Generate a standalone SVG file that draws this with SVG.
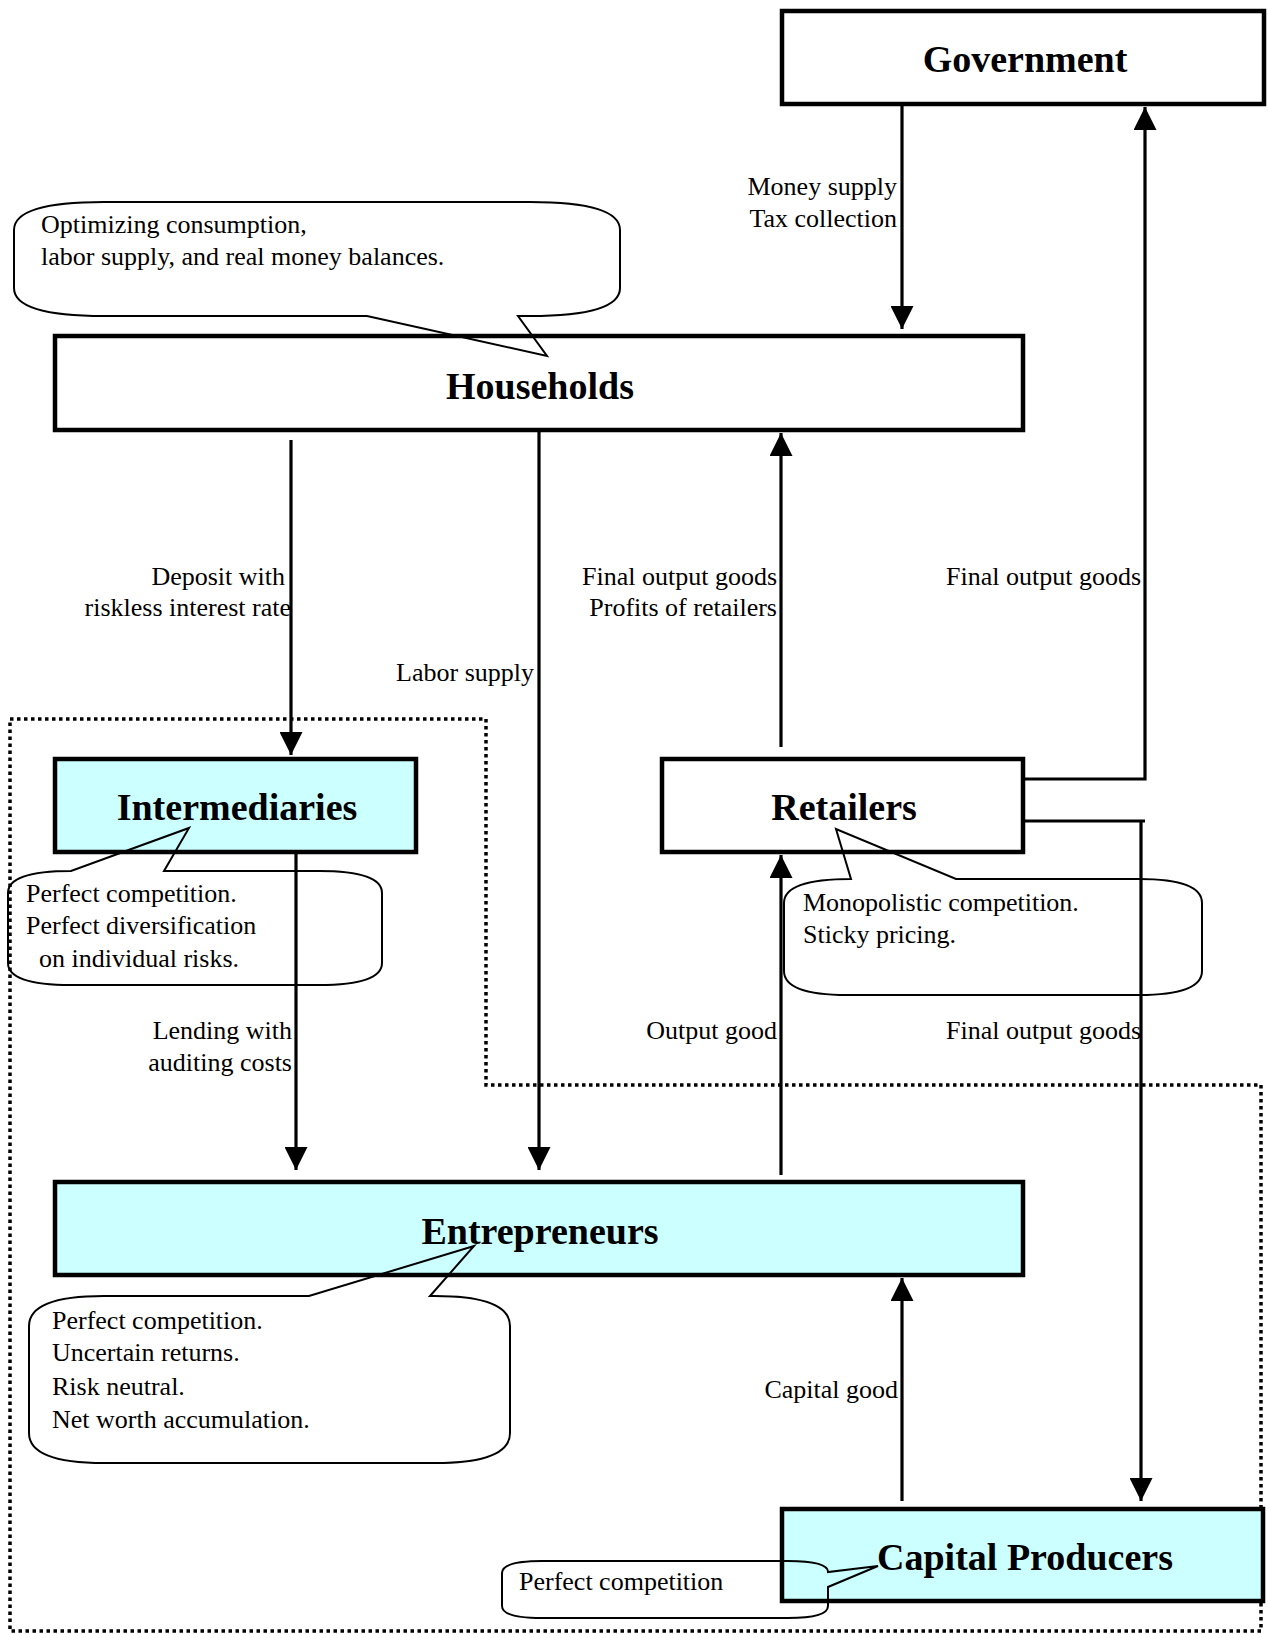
<svg xmlns="http://www.w3.org/2000/svg" width="1268" height="1634" viewBox="0 0 1268 1634">
<defs>
<style>
.box{fill:#ffffff;stroke:#000;stroke-width:4.5}
.cyan{fill:#ccffff;stroke:#000;stroke-width:4.5}
.title{font-family:"Liberation Serif","Times New Roman",serif;font-weight:bold;font-size:38px;text-anchor:middle;fill:#000}
.lbl{font-family:"Liberation Serif","Times New Roman",serif;font-size:26px;text-anchor:end;fill:#000}
.note{font-family:"Liberation Serif","Times New Roman",serif;font-size:26px;fill:#000}
.call{fill:none;stroke:#000;stroke-width:2}
.conn{fill:none;stroke:#000;stroke-width:3.2}
.dots{fill:none;stroke:#000;stroke-width:3.5;stroke-dasharray:3.5 3.5}
</style>
<marker id="ah" markerUnits="userSpaceOnUse" markerWidth="23" markerHeight="23" viewBox="0 0 23 23" refX="23" refY="11.5" orient="auto">
<path d="M0,0 L23,11.5 L0,23 Z" fill="#000"/>
</marker>
</defs>
<rect width="1268" height="1634" fill="#ffffff"/>

<polygon class="dots" points="10,719 486,719 486,1085 1261,1085 1261,1631 10,1631"/>

<g id="government">
<rect class="box" x="782" y="11" width="482" height="93"/>
<text class="title" x="1025" y="72">Government</text>
</g>
<g id="households">
<rect class="box" x="55" y="336" width="968" height="94"/>
<text class="title" x="540" y="399">Households</text>
</g>
<g id="intermediaries">
<rect class="cyan" x="55" y="759" width="361" height="93"/>
<text class="title" x="237" y="820">Intermediaries</text>
</g>
<g id="retailers">
<rect class="box" x="662" y="759" width="361" height="93"/>
<text class="title" x="844" y="820">Retailers</text>
</g>
<g id="entrepreneurs">
<rect class="cyan" x="55" y="1182" width="968" height="93"/>
<text class="title" x="540" y="1244">Entrepreneurs</text>
</g>
<g id="capital-producers">
<rect class="cyan" x="782" y="1509" width="481" height="92"/>
<text class="title" x="1025" y="1570">Capital Producers</text>
</g>

<g id="connectors">
<line class="conn" x1="902" y1="106" x2="902" y2="329" marker-end="url(#ah)"/>
<path class="conn" d="M1023,779 H1145 V107" marker-end="url(#ah)"/>
<path class="conn" d="M1023,821 H1145 M1141,821 V1501" marker-end="url(#ah)"/>
<line class="conn" x1="291" y1="440" x2="291" y2="755" marker-end="url(#ah)"/>
<line class="conn" x1="539" y1="432" x2="539" y2="1170" marker-end="url(#ah)"/>
<line class="conn" x1="781" y1="747" x2="781" y2="433" marker-end="url(#ah)"/>
<line class="conn" x1="296" y1="854" x2="296" y2="1170" marker-end="url(#ah)"/>
<line class="conn" x1="781" y1="1175" x2="781" y2="855" marker-end="url(#ah)"/>
<line class="conn" x1="902" y1="1501" x2="902" y2="1278" marker-end="url(#ah)"/>
</g>

<g id="connector-labels">
<text class="lbl" x="897" y="195">Money supply</text>
<text class="lbl" x="897" y="227">Tax collection</text>
<text class="lbl" x="285" y="585">Deposit with</text>
<text class="lbl" x="291" y="616">riskless interest rate</text>
<text class="lbl" x="534" y="681">Labor supply</text>
<text class="lbl" x="777" y="585">Final output goods</text>
<text class="lbl" x="777" y="616">Profits of retailers</text>
<text class="lbl" x="1141" y="585">Final output goods</text>
<text class="lbl" x="292" y="1039">Lending with</text>
<text class="lbl" x="292" y="1071">auditing costs</text>
<text class="lbl" x="777" y="1039">Output good</text>
<text class="lbl" x="1141" y="1039">Final output goods</text>
<text class="lbl" x="898" y="1398">Capital good</text>
</g>

<g id="callout-households">
<path class="call" d="M14,230 Q14,202 104,202 L530,202 Q620,202 620,230 L620,288 Q620,316 530,316 L518,316 L547,356 L367,316 L104,316 Q14,316 14,288 Z"/>
<text class="note" x="41" y="233">Optimizing consumption,</text>
<text class="note" x="41" y="265">labor supply, and real money balances.</text>
</g>
<g id="callout-intermediaries">
<path class="call" d="M8,893 Q8,871 71,871 L189,828 L164,871 L319,871 Q382,871 382,893 L382,963 Q382,985 319,985 L71,985 Q8,985 8,963 Z"/>
<text class="note" x="26" y="902">Perfect competition.</text>
<text class="note" x="26" y="934">Perfect diversification</text>
<text class="note" x="39" y="967">on individual risks.</text>
</g>
<g id="callout-retailers">
<path class="call" d="M784,903 Q784,879 851,879 L836,829 L956,879 L1139,879 Q1202,879 1202,903 L1202,971 Q1202,995 1139,995 L847,995 Q784,995 784,971 Z"/>
<text class="note" x="803" y="911">Monopolistic competition.</text>
<text class="note" x="803" y="943">Sticky pricing.</text>
</g>
<g id="callout-entrepreneurs">
<path class="call" d="M29,1326 Q29,1296 104,1296 L309,1296 L474,1246 L430,1296 L435,1296 Q510,1296 510,1326 L510,1433 Q510,1463 435,1463 L104,1463 Q29,1463 29,1433 Z"/>
<text class="note" x="52" y="1329">Perfect competition.</text>
<text class="note" x="52" y="1361">Uncertain returns.</text>
<text class="note" x="52" y="1395">Risk neutral.</text>
<text class="note" x="52" y="1428">Net worth accumulation.</text>
</g>
<g id="callout-capital-producers">
<path class="call" d="M502,1573 Q502,1561 542,1561 L788,1561 Q828,1561 828,1572 L878,1566 L828,1587 L828,1606 Q828,1618 788,1618 L542,1618 Q502,1618 502,1606 Z"/>
<text class="note" x="519" y="1590">Perfect competition</text>
</g>
</svg>
